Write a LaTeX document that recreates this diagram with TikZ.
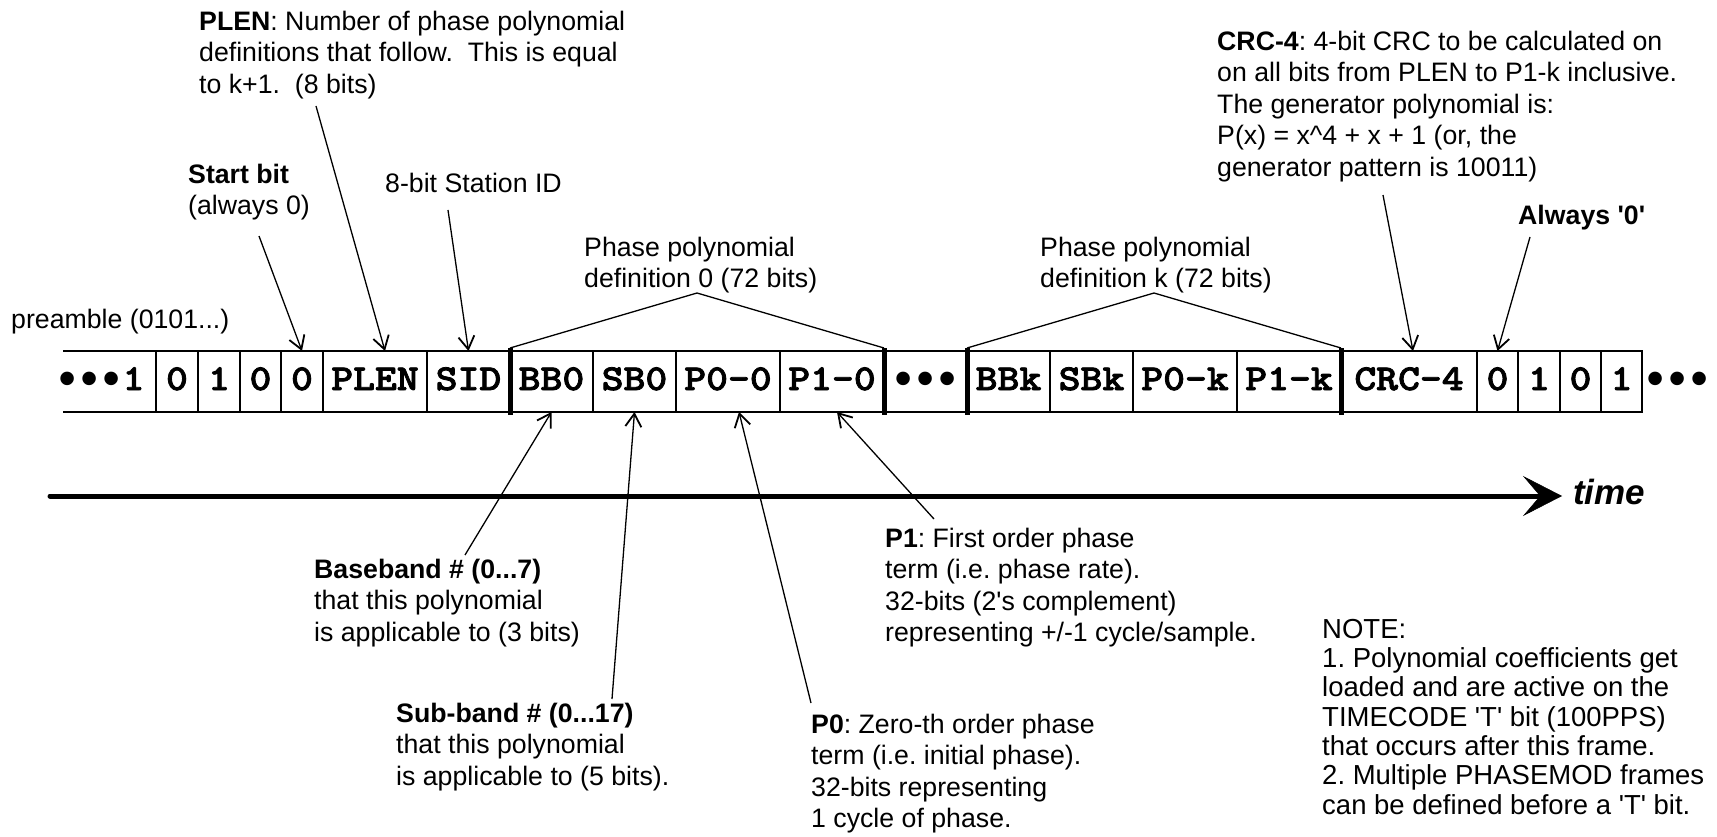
\documentclass[tikz,border=0pt]{standalone}
\usepackage{fontspec}
\setmainfont{Liberation Sans}
\newfontfamily\cellfont[FakeStretch=1.14,FakeBold=2.2]{lmmonolt10-bold.otf}
\newfontfamily\dotfont{Liberation Mono}
\usetikzlibrary{arrows.meta}
\frenchspacing
% one enlarged bullet on the 22pt character grid of the field font
\newcommand\bdot{\makebox[22pt]{\fontsize{47}{47}\selectfont\dotfont\bfseries\raisebox{-4.5pt}{•}}}

\begin{document}
\begin{tikzpicture}[x=1pt,y=-1pt,
  lbl/.style={anchor=north west, inner sep=0pt, align=left,
    font=\fontsize{26.7}{31.5}\selectfont},
  one/.style={anchor=base west, inner sep=0pt,
    font=\fontsize{26.7}{31.5}\selectfont},
  cell/.style={draw, line width=1.3pt, minimum height=61pt, inner sep=0pt,
    outer sep=0pt, text height=17pt, text depth=0pt,
    font=\fontsize{36.5}{40}\cellfont},
  rule/.style={line width=1.3pt},
  divider/.style={line width=5pt},
  leader/.style={line width=1.3pt,
    -{Straight Barb[length=13pt,width=16pt,line width=1.8pt]}},
]
\fill[white] (0,0) rectangle (1717,837);
\useasboundingbox (0,0) rectangle (1717,837);

% ---- frame bit fields ----
\node[cell, draw=none, minimum width=93pt] (c0) at (109.5,381.5) {\bdot\bdot\bdot 1\hspace*{18pt}};
\node[cell, minimum width=42pt]  (cb1)  at (177,381.5)   {0};
\node[cell, minimum width=42pt]  (cb2)  at (219,381.5)   {1};
\node[cell, minimum width=41pt]  (cb3)  at (260.5,381.5) {0};
\node[cell, minimum width=42pt]  (cb4)  at (302,381.5)   {0};
\node[cell, minimum width=104pt] (cplen) at (375,381.5)  {PLEN};
\node[cell, minimum width=83pt]  (csid) at (468.5,381.5) {SID};
\node[cell, minimum width=83pt]  (cbb0) at (551.5,381.5) {BB0};
\node[cell, minimum width=83pt]  (csb0) at (634.5,381.5) {SB0};
\node[cell, minimum width=104pt] (cp00) at (728,381.5)   {P0-0};
\node[cell, minimum width=104pt] (cp10) at (832,381.5)   {P1-0};
\node[cell, minimum width=83pt]  (cdots) at (925.5,381.5) {\bdot\bdot\bdot};
\node[cell, minimum width=83pt]  (cbbk) at (1008.5,381.5) {BBk};
\node[cell, minimum width=83pt]  (csbk) at (1091.5,381.5) {SBk};
\node[cell, minimum width=104pt] (cp0k) at (1185,381.5)  {P0-k};
\node[cell, minimum width=104pt] (cp1k) at (1289,381.5)  {P1-k};
\node[cell, minimum width=136pt] (ccrc) at (1409,381.5)  {CRC-4};
\node[cell, minimum width=41pt]  (ct0)  at (1497.5,381.5) {0};
\node[cell, minimum width=42pt]  (ct1)  at (1539,381.5)  {1};
\node[cell, minimum width=41pt]  (ct2)  at (1580.5,381.5) {0};
\node[cell, minimum width=41pt]  (ct3)  at (1621.5,381.5) {1};
\node[cell, draw=none, anchor=west, minimum width=10pt] (ctail) at (ct3.east) {\hspace*{3pt}\bdot\bdot\bdot};

% open-ended first field: top and bottom rules only
\draw[rule] (cb1.north west) -- ++(-93,0);
\draw[rule] (cb1.south west) -- ++(-93,0);

% heavy separators around the polynomial definitions
\foreach \c in {csid, cp10, cdots, cp1k}
  \draw[divider] ([yshift=3pt]\c.north east) -- ([yshift=-3pt]\c.south east);

% ---- braces over the polynomial definitions ----
\coordinate (apex0) at (697,293);
\coordinate (apexk) at (1154,293);
\draw[rule] ([yshift=3pt]csid.north east) -- (apex0) -- ([yshift=3pt]cp10.north east);
\draw[rule] ([yshift=3pt]cdots.north east) -- (apexk) -- ([yshift=3pt]cp1k.north east);
\node[lbl] (lph0) at (584,234) {\strut Phase polynomial\\definition 0 (72 bits)};
\node[lbl] (lphk) at (1040,234) {\strut Phase polynomial\\definition k (72 bits)};

% ---- labels above the frame ----
\node[lbl] (lplen) at (199,8) {\strut\textbf{PLEN}: Number of phase polynomial\\definitions that follow.~~This is equal\\to k+1.~~(8 bits)};
\node[lbl] (lstart) at (188,161) {\strut\textbf{Start bit}\\(always 0)};
\node[one] (lsid) at (385,193) {8-bit Station ID};
\node[lbl] (lcrc) at (1217,28) {\strut\textbf{CRC-4}: 4-bit CRC to be calculated on\\on all bits from PLEN to P1-k inclusive.\\The generator polynomial is:\\P(x) = x\textasciicircum 4 + x + 1 (or, the\\generator pattern is 10011)};
\node[one] (lalw) at (1518,225) {\textbf{Always \textquotesingle 0\textquotesingle}};
\node[one] (lpre) at (11,328) {preamble (0101...)};

\coordinate (sStart) at (259,236);
\coordinate (sPlen) at (316,106);
\coordinate (sSid) at (448,210);
\coordinate (sCrc) at (1383,195);
\coordinate (sAlw) at (1530,237);
\draw[leader] (sStart) -- (cb4.north);
\draw[leader] (sPlen) -- ([xshift=10pt]cplen.north);
\draw[leader] (sSid) -- (csid.north);
\draw[leader] (sCrc) -- ([xshift=4pt]ccrc.north);
\draw[leader] (sAlw) -- (ct0.north);

% ---- time axis ----
\coordinate (tA) at (50,496);
\coordinate (tB) at (1562,496);
\draw[line width=5pt, line cap=round,
  -{Stealth[length=39pt,width=40pt,inset=17pt,line width=0.5pt]}] (tA) -- (tB);
\node[anchor=base west, inner sep=0pt,
  font=\fontsize{35}{40}\selectfont\bfseries\itshape] (ltime) at (1573,504) {time};

% ---- labels below the frame ----
\node[lbl] (lbb) at (314,556) {\strut\textbf{Baseband \# (0...7)}\\that this polynomial\\is applicable to (3 bits)};
\node[lbl] (lsb) at (396,700) {\strut\textbf{Sub-band \# (0...17)}\\that this polynomial\\is applicable to (5 bits).};
\node[lbl] (lp0) at (811,711) {\strut\textbf{P0}: Zero-th order phase\\term (i.e. initial phase).\\32-bits representing\\1 cycle of phase.};
\node[lbl] (lp1) at (885,525) {\strut\textbf{P1}: First order phase\\term (i.e. phase rate).\\32-bits (2\textquotesingle s complement)\\representing +/-1 cycle/sample.};
\node[lbl, font=\fontsize{27.5}{29.3}\selectfont] (lnote) at (1322,617.5) {\strut NOTE:\\1. Polynomial coefficients get\\loaded and are active on the\\TIMECODE \textquotesingle T\textquotesingle{} bit (100PPS)\\that occurs after this frame.\\2. Multiple PHASEMOD frames\\can be defined before a \textquotesingle T\textquotesingle{} bit.};

\coordinate (sBb) at (465,555);
\coordinate (sSb) at (612,699);
\coordinate (sP0) at (811,703);
\coordinate (sP1) at (934,519);
\draw[leader] (sBb) -- (cbb0.south);
\draw[leader] (sSb) -- (csb0.south);
\draw[leader] (sP0) -- ([xshift=11pt]cp00.south);
\draw[leader] (sP1) -- ([xshift=5pt]cp10.south);
\end{tikzpicture}
\end{document}
